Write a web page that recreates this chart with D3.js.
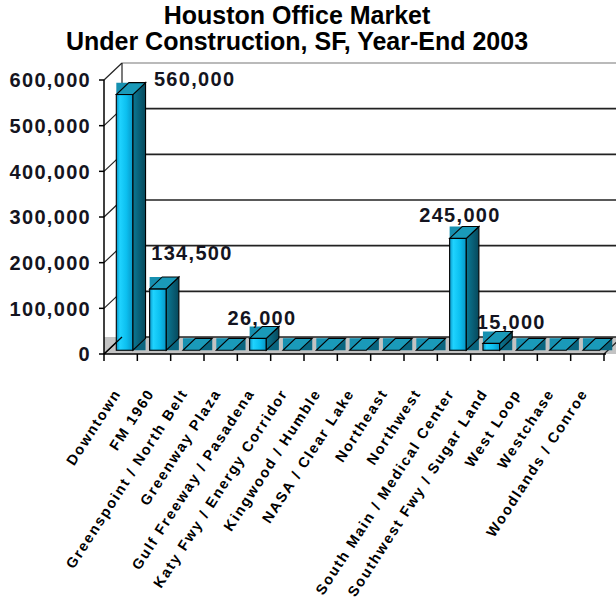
<!DOCTYPE html>
<html>
<head>
<meta charset="utf-8">
<script src="https://cdn.jsdelivr.net/npm/d3@7/dist/d3.min.js"></script>
<style>
  html, body { margin: 0; padding: 0; background: #fff; }
  svg { display: block; font-family: "Liberation Sans", Arial, sans-serif; }
</style>
</head>
<body>
<svg id="chart" width="616" height="604"></svg>
<script>
// Houston office space under construction by submarket, year-end 2003 (square feet)
const categories = [
  "Downtown", "FM 1960", "Greenspoint / North Belt", "Greenway Plaza",
  "Gulf Freeway / Pasadena", "Katy Fwy / Energy Corridor", "Kingwood / Humble",
  "NASA / Clear Lake", "Northeast", "Northwest", "South Main / Medical Center",
  "Southwest Fwy / Sugar Land", "West Loop", "Westchase", "Woodlands / Conroe"
];
const underConstruction = [560000, 134500, 0, 0, 26000, 0, 0, 0, 0, 0, 245000, 15000, 0, 0, 0];
const valueTicks = [0, 100000, 200000, 300000, 400000, 500000, 600000];
const titleLines = ["Houston Office Market", "Under Construction, SF, Year-End 2003"];

// hand-placed offsets for the value labels, in pixels from their default spot
const labelShift = {
  "Downtown": [70, 5],
  "FM 1960": [34, -15],
  "Gulf Freeway / Pasadena": [4, 1],
  "South Main / Medical Center": [2, -2],
  "Southwest Fwy / Sugar Land": [20, -1]
};

const W = 616, H = 604;
const plotLeft = 104, plotRight = 604, plotBase = 354, plotTop = 80;
const DX = 18, DY = -17;          // full depth of the plot box
const f0 = 0.22, f1 = 0.92;       // depth span of the columns

const svg = d3.select("#chart");
const fmt = d3.format(",");

const x = d3.scaleBand().domain(categories).range([plotLeft, plotRight])
  .paddingInner(0.5).paddingOuter(0.25);
const y = d3.scaleLinear().domain([0, 600000]).range([plotBase, plotTop]);

// gradients
const defs = svg.append("defs");
const gFront = defs.append("linearGradient").attr("id", "front").attr("x1", 0).attr("x2", 1).attr("y1", 0).attr("y2", 0);
[["0%", "#0a93c4"], ["22%", "#1fd3ff"], ["60%", "#0cc0f0"], ["100%", "#0896c6"]]
  .forEach(([o, c]) => gFront.append("stop").attr("offset", o).attr("stop-color", c));
const gSide = defs.append("linearGradient").attr("id", "side").attr("x1", 0).attr("x2", 1).attr("y1", 0).attr("y2", 0);
[["0%", "#0b7894"], ["100%", "#06485b"]]
  .forEach(([o, c]) => gSide.append("stop").attr("offset", o).attr("stop-color", c));

// title
svg.append("g").selectAll("text").data(titleLines).join("text")
  .attr("x", 297).attr("y", (d, i) => 24 + i * 26)
  .attr("text-anchor", "middle")
  .attr("font-size", 25).attr("font-weight", "bold").attr("fill", "#000")
  .text(d => d);

const walls = svg.append("g");
const yMax = y(600000);

// floor slab
walls.append("rect")
  .attr("x", plotLeft).attr("y", plotBase + DY)
  .attr("width", plotRight + DX - plotLeft).attr("height", -DY)
  .attr("fill", "#c3c3c3");

// gridlines: left wall diagonals and back wall horizontals
walls.selectAll("line.lw").data(valueTicks).join("line")
  .attr("x1", plotLeft).attr("y1", d => y(d))
  .attr("x2", plotLeft + DX).attr("y2", d => y(d) + DY)
  .attr("stroke", "#222").attr("stroke-width", 1.2);
walls.selectAll("line.bw").data(valueTicks).join("line")
  .attr("x1", plotLeft + DX).attr("y1", d => y(d) + DY)
  .attr("x2", W + 10).attr("y2", d => y(d) + DY)
  .attr("stroke", d => d === 600000 ? "#777" : "#222")
  .attr("stroke-width", d => d === 600000 ? 1.2 : 1.6);
walls.append("line")
  .attr("x1", plotLeft + DX).attr("y1", yMax + DY)
  .attr("x2", plotLeft + DX).attr("y2", plotBase + DY)
  .attr("stroke", "#222").attr("stroke-width", 1.2);
walls.append("line")
  .attr("x1", plotRight).attr("y1", plotBase)
  .attr("x2", plotRight + DX).attr("y2", plotBase + DY)
  .attr("stroke", "#222").attr("stroke-width", 1.2);

// columns
const bw = x.bandwidth();
const ddx = (f1 - f0) * DX, ddy = (f1 - f0) * DY;
const bars = svg.append("g").selectAll("g").data(categories.map((c, i) => ({ c, v: underConstruction[i] }))).join("g");
bars.each(function (d) {
  const g = d3.select(this);
  const xL = x(d.c) + f0 * DX, xR = xL + bw;
  const yB = plotBase + f0 * DY, yT = y(d.v) + f0 * DY;
  const pts = a => a.map(p => p.join(",")).join(" ");
  // corner fills beside the box faces
  g.append("polygon").attr("points", pts([[xL, yT + ddy], [xL + ddx, yT + ddy], [xL, yT]]))
    .attr("fill", "#1690b0");
  g.append("polygon").attr("points", pts([[xR, yB], [xR + ddx, yB + ddy], [xR + ddx, yB]]))
    .attr("fill", "#0a6680");
  if (d.v > 0) {
    g.append("rect").attr("x", xL).attr("y", yT).attr("width", bw).attr("height", yB - yT)
      .attr("fill", "url(#front)").attr("stroke", "#000").attr("stroke-width", 1.1);
    g.append("polygon").attr("points", pts([[xR, yB], [xR, yT], [xR + ddx, yT + ddy], [xR + ddx, yB + ddy]]))
      .attr("fill", "url(#side)").attr("stroke", "#000").attr("stroke-width", 1.1);
  }
  g.append("polygon").attr("points", pts([[xL, yT], [xR, yT], [xR + ddx, yT + ddy], [xL + ddx, yT + ddy]]))
    .attr("fill", "#1a9ab9").attr("stroke", "#000").attr("stroke-width", 1.1);
});

// axes
const axes = svg.append("g").attr("stroke", "#000").attr("stroke-width", 1.5);
axes.append("line").attr("x1", plotLeft).attr("y1", yMax).attr("x2", plotLeft).attr("y2", plotBase);
axes.append("line").attr("x1", plotLeft).attr("y1", plotBase).attr("x2", plotRight + 2).attr("y2", plotBase);
axes.selectAll("line.yt").data(valueTicks).join("line")
  .attr("x1", plotLeft - 5).attr("x2", plotLeft).attr("y1", d => y(d)).attr("y2", d => y(d));
const step = x.step();
axes.selectAll("line.xt").data(d3.range(categories.length + 1)).join("line")
  .attr("x1", i => plotLeft + i * step).attr("x2", i => plotLeft + i * step)
  .attr("y1", plotBase).attr("y2", plotBase + 7);
axes.append("line")
  .attr("x1", plotLeft).attr("y1", plotBase).attr("x2", plotLeft + DX).attr("y2", plotBase + DY)
  .attr("stroke-width", 1.2);

// value axis labels
svg.append("g").selectAll("text").data(valueTicks).join("text")
  .attr("x", 91).attr("y", d => y(d))
  .attr("dy", "0.36em").attr("text-anchor", "end")
  .attr("font-size", 20).attr("font-weight", "bold").attr("letter-spacing", 1.3)
  .attr("fill", "#141420")
  .text(d => fmt(d));

// category labels
svg.append("g").selectAll("text").data(categories).join("text")
  .attr("transform", d => `translate(${x(d) + bw / 2 + 1},${plotBase + 39}) rotate(-57)`)
  .attr("text-anchor", "end")
  .attr("font-size", 14.5).attr("font-weight", "bold").attr("letter-spacing", 1.8)
  .attr("fill", "#000")
  .text(d => d);

// value labels
svg.append("g").selectAll("text")
  .data(categories.map((c, i) => ({ c, v: underConstruction[i] })).filter(d => d.v > 0))
  .join("text")
  .attr("x", d => x(d.c) + f0 * DX + bw / 2 + (labelShift[d.c] || [0, 0])[0])
  .attr("y", d => y(d.v) + f1 * DY - 2 + (labelShift[d.c] || [0, 0])[1])
  .attr("text-anchor", "middle")
  .attr("font-size", 20).attr("font-weight", "bold").attr("letter-spacing", 1.3)
  .attr("fill", "#141420")
  .text(d => fmt(d.v));
</script>
</body>
</html>
